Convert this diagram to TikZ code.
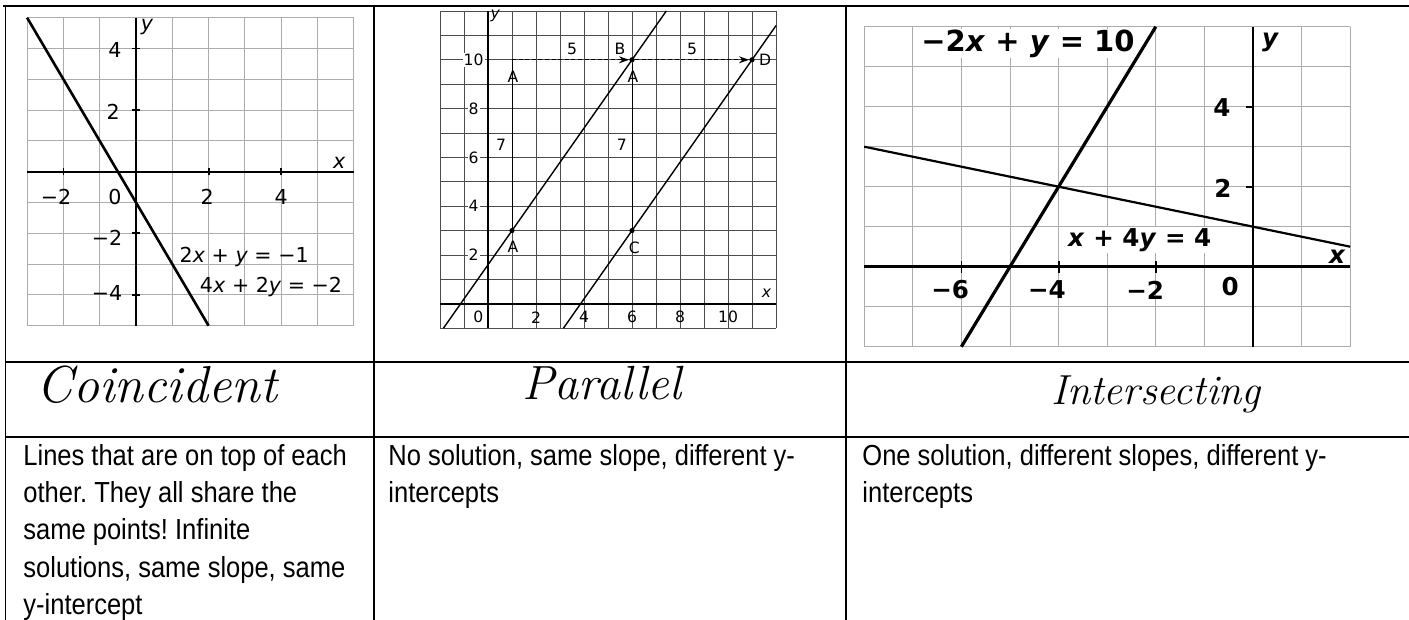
\documentclass[tikz,border=0pt]{standalone}
\usepackage{fontspec}
\newfontfamily\descfont[FakeStretch=0.88]{Liberation Sans}
\newfontfamily\graphfont{DejaVu Sans}
\usetikzlibrary{arrows.meta}
\frenchspacing

\begin{document}
\begin{tikzpicture}[
    x=0.5pt, y=0.5pt,
    rule/.style={line width=0.9pt, black},
    gridline/.style={line width=0.5pt, gray!65},
    gridtwo/.style={line width=0.45pt, black!70},
    axis/.style={line width=1pt, black},
    graphline/.style={line width=1.3pt, black},
    thinline/.style={line width=0.7pt, black},
    tick/.style={line width=0.9pt, black},
    ticklabel/.style={font=\graphfont\fontsize{10.3}{12}\selectfont, inner sep=0.5pt},
    biglabel/.style={font=\graphfont\bfseries\fontsize{12.3}{14}\selectfont, inner sep=0.5pt},
    smalllabel/.style={font=\graphfont\fontsize{7.8}{9}\selectfont, inner sep=0.5pt},
    hand/.style={anchor=base, inner sep=0pt},
    desc/.style={font=\descfont\fontsize{14.5}{18.7}\selectfont, align=left, anchor=base west, inner sep=0pt},
    dot/.style={circle, fill=black, inner sep=0pt, minimum size=2.6pt},
    shiftarrow/.style={line width=0.6pt, dash pattern=on 2pt off 1.3pt, -{Stealth[length=5pt, width=3.5pt]}},
]
\useasboundingbox (0,0) rectangle (1409,-620);

% table rules
\draw[rule] (3,-6) -- (1409,-6);
\draw[rule] (5.5,-6) -- (5.5,-620);
\draw[rule] (374,-6) -- (374,-620);
\draw[rule] (846,-6) -- (846,-620);
\draw[rule] (5.5,-362) -- (1409,-362);
\draw[rule] (5.5,-437) -- (1409,-437);

% graph 1: coincident lines
\begin{scope}[shift={(136,-171.7)}, x=18.15pt, y=15.4pt]
  \draw[gridline, step=1] (-3,-5) grid (6,5);
  \draw[axis] (-3,0) -- (6,0);
  \draw[axis] (0,-5) -- (0,5);
  \foreach \t in {-2,2,4} \draw[tick] (\t,-0.12) -- (\t,0.12);
  \foreach \t in {-4,-2,2,4} \draw[tick] (-0.1,\t) -- (0.1,\t);
  \node[ticklabel] (g1xm2) at (-2.2,-0.82) {−2};
  \node[ticklabel] (g1x0) at (-0.58,-0.82) {0};
  \node[ticklabel] (g1x2) at (1.96,-0.82) {2};
  \node[ticklabel] (g1x4) at (4,-0.82) {4};
  \node[ticklabel] (g1y4) at (-0.58,3.95) {4};
  \node[ticklabel] (g1y2) at (-0.63,1.94) {2};
  \node[ticklabel] (g1ym2) at (-0.8,-2.15) {−2};
  \node[ticklabel] (g1ym4) at (-0.8,-3.94) {−4};
  \node[ticklabel] (g1ylab) at (0.3,4.7) {\itshape y};
  \node[ticklabel] (g1xlab) at (5.6,0.3) {\itshape x};
  \coordinate (g1top) at (-3,5);
  \coordinate (g1bot) at (2,-5);
  \draw[graphline] (g1top) -- (g1bot);
  \node[ticklabel] (g1eqa) at (2.98,-2.77) {2\textit{x} + \textit{y} = −1};
  \node[ticklabel] (g1eqb) at (3.72,-3.75) {4\textit{x} + 2\textit{y} = −2};
\end{scope}

% graph 2: parallel lines
\begin{scope}[shift={(488,-303.8)}, x=12pt, y=12.2pt]
  \draw[gridtwo, step=1] (-2,-1) grid (12,12);
  \draw[axis] (-2,0) -- (12,0);
  \draw[axis] (0,-1) -- (0,12);
  \foreach \v in {2,4,...,10}
    \node[smalllabel, fill=white] (g2y\v) at (-0.6,\v) {\v};
  \foreach \v in {2,4,...,10}
    \node[smalllabel] (g2x\v) at (\v,-0.55) {\v};
  \node[smalllabel] (g2x0) at (-0.4,-0.55) {0};
  \node[smalllabel] (g2xlab) at (11.6,0.44) {\itshape x};
  \node[smalllabel] (g2ylab) at (0.3,11.8) {\itshape y};
  \coordinate (g2la) at (-1.857,-1);
  \coordinate (g2lb) at (7.43,12);
  \coordinate (g2ma) at (3.143,-1);
  \coordinate (g2mb) at (12,11.4);
  \draw[thinline] (g2la) -- (g2lb);
  \draw[thinline] (g2ma) -- (g2mb);
  % points and shifts
  \node[dot] (ptA) at (1,3) {};
  \coordinate (ptAup) at (1,10);
  \node[dot] (ptB) at (6,10) {};
  \node[dot] (ptC) at (6,3) {};
  \node[dot] (ptD) at (11,10) {};
  \draw[line width=0.5pt] (ptA) -- (ptAup);
  \draw[line width=0.5pt] (ptC) -- (ptB);
  \draw[shiftarrow] (ptAup) -- (ptB);
  \draw[shiftarrow] (ptB) -- (ptD);
  \node[smalllabel] (labA) at (1.04,2.33) {A};
  \node[smalllabel] (labC) at (6.1,2.3) {C};
  \node[smalllabel] (labAup) at (1.04,9.3) {A};
  \node[smalllabel] (labAB) at (6.04,9.3) {A};
  \node[smalllabel] (labB) at (5.5,10.45) {B};
  \node[smalllabel] (labD) at (11.55,10) {D};
  \node[smalllabel] (runa) at (3.5,10.45) {5};
  \node[smalllabel] (runb) at (8.5,10.45) {5};
  \node[smalllabel] (risea) at (0.54,6.5) {7};
  \node[smalllabel] (riseb) at (5.58,6.5) {7};
\end{scope}

% graph 3: intersecting lines
\begin{scope}[shift={(1253,-266.7)}, x=24.3pt, y=20pt]
  \draw[gridline, step=1] (-8,-2) grid (2,6);
  \draw[axis, line width=1.2pt] (-8,0) -- (2,0);
  \draw[axis, line width=1.2pt] (0,-2) -- (0,6);
  \foreach \t in {-6,-4,-2} \draw[tick] (\t,-0.15) -- (\t,0.15);
  \foreach \t in {2,4} \draw[tick] (-0.15,\t) -- (0,\t);
  \node[biglabel] (g3xm6) at (-6.23,-0.58) {−6};
  \node[biglabel] (g3xm4) at (-4.24,-0.58) {−4};
  \node[biglabel] (g3xm2) at (-2.22,-0.58) {−2};
  \node[biglabel] (g3x0) at (-0.47,-0.5) {0};
  \node[biglabel] (g3y4) at (-0.64,3.97) {4};
  \node[biglabel] (g3y2) at (-0.62,1.97) {2};
  \node[biglabel] (g3ylab) at (0.35,5.6) {\itshape y};
  \node[biglabel] (g3xlab) at (1.73,0.24) {\itshape x};
  \node[biglabel, fill=white, font=\graphfont\bfseries\fontsize{14.5}{16}\selectfont] (g3eqa) at (-4.63,5.58) {−2\textit{x} + \textit{y} = 10};
  \node[biglabel, fill=white] (g3eqb) at (-2.33,0.67) {\textit{x} + 4\textit{y} = 4};
  \coordinate (g3la) at (-6,-2);
  \coordinate (g3lb) at (-2,6);
  \coordinate (g3ma) at (-8,3);
  \coordinate (g3mb) at (2,0.5);
  \draw[graphline, line width=1.6pt] (g3la) -- (g3lb);
  \draw[graphline, line width=1.1pt] (g3ma) -- (g3mb);
\end{scope}

% handwritten names
\node[hand, font=\rmfamily\itshape\fontsize{26}{30}\selectfont] (coinc) at (157,-402) {Coincident};
\node[hand, font=\rmfamily\itshape\fontsize{24}{28}\selectfont] (paral) at (602,-400) {Parallel};
\node[hand, font=\rmfamily\itshape\fontsize{21}{25}\selectfont] (inter) at (1156,-405) {Intersecting};

% descriptions (base anchor sits on the last line)
\node[desc] (coincdesc) at (23,-614.6) {Lines that are on top of each\\other. They all share the\\same points! Infinite\\solutions, same slope, same\\y-intercept};
\node[desc] (paraldesc) at (388,-502.4) {No solution, same slope, different y-\\intercepts};
\node[desc] (interdesc) at (862,-502.4) {One solution, different slopes, different y-\\intercepts};

\end{tikzpicture}
\end{document}
